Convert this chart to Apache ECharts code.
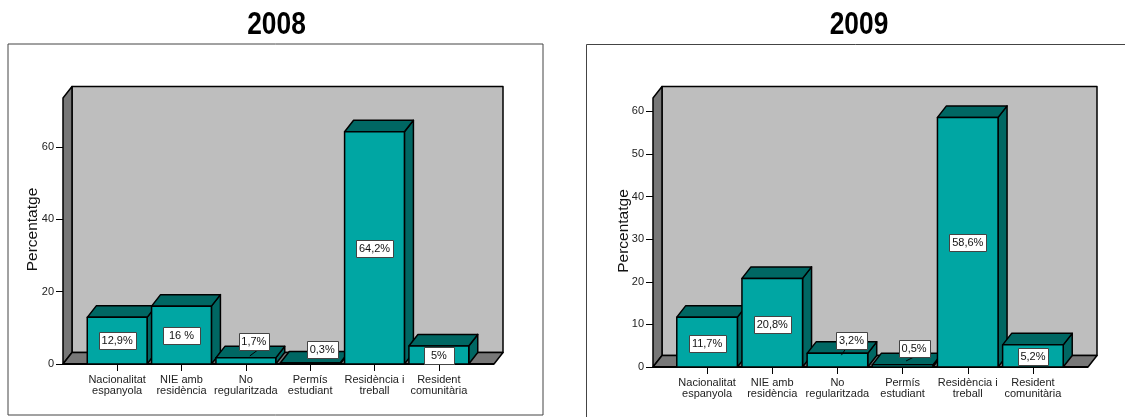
<!DOCTYPE html>
<html>
<head>
<meta charset="utf-8">
<style>html,body{margin:0;padding:0;background:#fff}#chart{width:1125px;height:417px}</style>
<script src="https://cdn.jsdelivr.net/npm/echarts@6/dist/echarts.min.js"></script>
</head>
<body>
<div id="chart"></div>
<script>
// Permit status of residents, percentages per year
const categories = ['Nacionalitat\nespanyola', 'NIE amb\nresidència', 'No\nregularitzada', 'Permís\nestudiant', 'Residència i\ntreball', 'Resident\ncomunitària'];
const values2008 = [12.9, 16, 1.7, 0.3, 64.2, 5];
const values2009 = [11.7, 20.8, 3.2, 0.5, 58.6, 5.2];
const labels2008 = ['12,9%', '16 %', '1,7%', '0,3%', '64,2%', '5%'];
const labels2009 = ['11,7%', '20,8%', '3,2%', '0,5%', '58,6%', '5,2%'];
const ticks2008 = [0, 20, 40, 60];
const ticks2009 = [0, 10, 20, 30, 40, 50, 60];

const FONT = '"Liberation Sans", Arial, sans-serif';
const DEPTH_X = 9, DEPTH_Y = 11.5;
const TEAL = '#00a6a3', TEAL_DARK = '#006763', WALL = '#bebebe', WALL_DARK = '#777777', INK = '#000';
const edge = { stroke: INK, lineWidth: 1.5, lineJoin: 'round' };

// Walls and floor of the box, derived from the plot rectangle
function boxRenderer(axisGap, floorPad) {
  return function (params) {
    const c = params.coordSys;
    const x0 = c.x - axisGap, x1 = c.x + c.width + floorPad;
    const yTop = c.y, yBot = c.y + c.height;
    const dx = DEPTH_X, dy = DEPTH_Y;
    return {
      type: 'group',
      children: [
        { type: 'polygon', shape: { points: [[x0 + dx, yTop - dy], [x1 + dx, yTop - dy], [x1 + dx, yBot - dy], [x0 + dx, yBot - dy]] }, style: { fill: WALL, ...edge } },
        { type: 'polygon', shape: { points: [[x0, yTop], [x0 + dx, yTop - dy], [x0 + dx, yBot - dy], [x0, yBot]] }, style: { fill: WALL_DARK, ...edge } },
        { type: 'polygon', shape: { points: [[x0, yBot], [x0 + dx, yBot - dy], [x1 + dx, yBot - dy], [x1, yBot]] }, style: { fill: WALL_DARK, ...edge } },
        { type: 'line', shape: { x1: x0, y1: yBot, x2: x1, y2: yBot }, style: { stroke: INK, lineWidth: 2 } }
      ]
    };
  };
}

// Extruded bar with its boxed value label
function barRenderer(labels, place) {
  return function (params, api) {
    const i = api.value(0), v = api.value(1);
    const top = api.coord([i, v]), base = api.coord([i, 0]);
    const w = api.size([1, 0])[0] * 0.93;
    const xl = top[0] - w / 2, xr = top[0] + w / 2, yt = top[1], yb = base[1];
    const dx = DEPTH_X, dy = DEPTH_Y;
    const p = place[i];
    const cx = top[0] + p.dx, cy = (yt + yb) / 2 + p.dy;
    const bw = p.w, bh = 17;
    const children = [
      { type: 'polygon', shape: { points: [[xr, yt], [xr + dx, yt - dy], [xr + dx, yb - dy], [xr, yb]] }, style: { fill: TEAL_DARK, ...edge } },
      { type: 'polygon', shape: { points: [[xl, yt], [xl + dx, yt - dy], [xr + dx, yt - dy], [xr, yt]] }, style: { fill: TEAL_DARK, ...edge } },
      { type: 'rect', shape: { x: xl, y: yt, width: w, height: yb - yt }, style: { fill: TEAL, ...edge } }
    ];
    if (p.leader) {
      children.push({ type: 'line', z2: 5, shape: { x1: cx + p.leader[0], y1: cy + bh / 2 + p.leader[1], x2: cx + p.leader[2], y2: cy + bh / 2 }, style: { stroke: INK, lineWidth: 1 } });
    }
    children.push(
      { type: 'rect', z2: 6, shape: { x: Math.round(cx - bw / 2) + 0.5, y: Math.round(cy - bh / 2) + 0.5, width: bw, height: bh }, style: { fill: '#fff', stroke: '#444', lineWidth: 1 } },
      { type: 'text', z2: 7, style: { x: cx, y: cy + 0.5, text: labels[i], fill: '#111', font: '11px ' + FONT, align: 'center', verticalAlign: 'middle' } }
    );
    return { type: 'group', children };
  };
}

const place2008 = [
  { dx: 0, dy: 0, w: 37 }, { dx: 0, dy: 0.5, w: 37 },
  { dx: 8, dy: -19.5, w: 30, leader: [-4, 6, 4] }, { dx: 12, dy: -14, w: 31 },
  { dx: 0, dy: 1, w: 37 }, { dx: 0, dy: 0.5, w: 30 }
];
const place2009 = [
  { dx: 0, dy: 1.5, w: 37 }, { dx: 0, dy: 1.5, w: 37 },
  { dx: 14, dy: -19.5, w: 31, leader: [-10, 6, -6] }, { dx: 11.5, dy: -17.5, w: 31, leader: [-8, 4, 0] },
  { dx: 0, dy: 0.5, w: 37 }, { dx: 0, dy: 0.5, w: 30 }
];

const panels = [
  { left: 85, width: 386, height: 266, yMax: 73.55, ticks: ticks2008, values: values2008, labels: labels2008, place: place2008, axisGap: 22, floorPad: 23, nameGap: 22 },
  { left: 674.5, width: 391, height: 269, yMax: 63.15, ticks: ticks2009, values: values2009, labels: labels2009, place: place2009, axisGap: 21.5, floorPad: 22.5, nameGap: 21 }
];

// Condensed bold year heading, squeezed horizontally around its centre
function yearHeading(text, cx) {
  return {
    type: 'text', silent: true, z: 5, x: cx, y: 25.5, scaleX: 0.85,
    style: { text, fill: '#000', font: 'bold 31px ' + FONT, align: 'center', verticalAlign: 'middle' }
  };
}

const option = {
  animation: false,
  backgroundColor: '#fff',
  textStyle: { fontFamily: FONT },
  grid: panels.map(p => ({ left: p.left, width: p.width, top: 98, height: p.height })),
  xAxis: panels.map((p, i) => ({
    type: 'category', gridIndex: i, data: categories,
    axisLine: { show: false },
    axisTick: { show: true, alignWithLabel: true, length: 7, lineStyle: { color: INK, width: 1 } },
    axisLabel: { interval: 0, margin: 10, fontSize: 11, lineHeight: 11, color: '#222', fontFamily: FONT, hideOverlap: false }
  })),
  yAxis: panels.map((p, i) => ({
    type: 'value', gridIndex: i, min: 0, max: p.yMax, offset: p.axisGap,
    name: 'Percentatge', nameLocation: 'middle', nameGap: p.nameGap, nameMoveOverlap: false,
    nameTextStyle: { fontSize: 15.5, color: '#111', fontFamily: FONT, padding: [0, 0, 0, 3] },
    splitLine: { show: false },
    axisLine: { show: false },
    axisTick: { show: true, length: 7, customValues: p.ticks, lineStyle: { color: INK, width: 1 } },
    axisLabel: { customValues: p.ticks, fontSize: 11, margin: 9, color: '#222', fontFamily: FONT }
  })),
  series: panels.flatMap((p, i) => [
    { type: 'custom', xAxisIndex: i, yAxisIndex: i, z: 1, silent: true, data: [[0, 0]], renderItem: boxRenderer(p.axisGap, p.floorPad) },
    { type: 'custom', xAxisIndex: i, yAxisIndex: i, z: 2, silent: true, data: p.values.map((v, k) => [k, v]), encode: { x: 0, y: 1 }, renderItem: barRenderer(p.labels, p.place) }
  ]),
  graphic: [
    yearHeading('2008', 276.5),
    yearHeading('2009', 859),
    { type: 'rect', silent: true, z: 0, shape: { x: 8, y: 44, width: 535, height: 371 }, style: { fill: 'none', stroke: '#444', lineWidth: 1 } },
    { type: 'polyline', silent: true, z: 0, shape: { points: [[586.5, 417], [586.5, 44.5], [1125, 44.5]] }, style: { fill: 'none', stroke: '#444', lineWidth: 1 } }
  ]
};

echarts.init(document.getElementById('chart'), null, { renderer: 'canvas' }).setOption(option);
</script>
</body>
</html>
